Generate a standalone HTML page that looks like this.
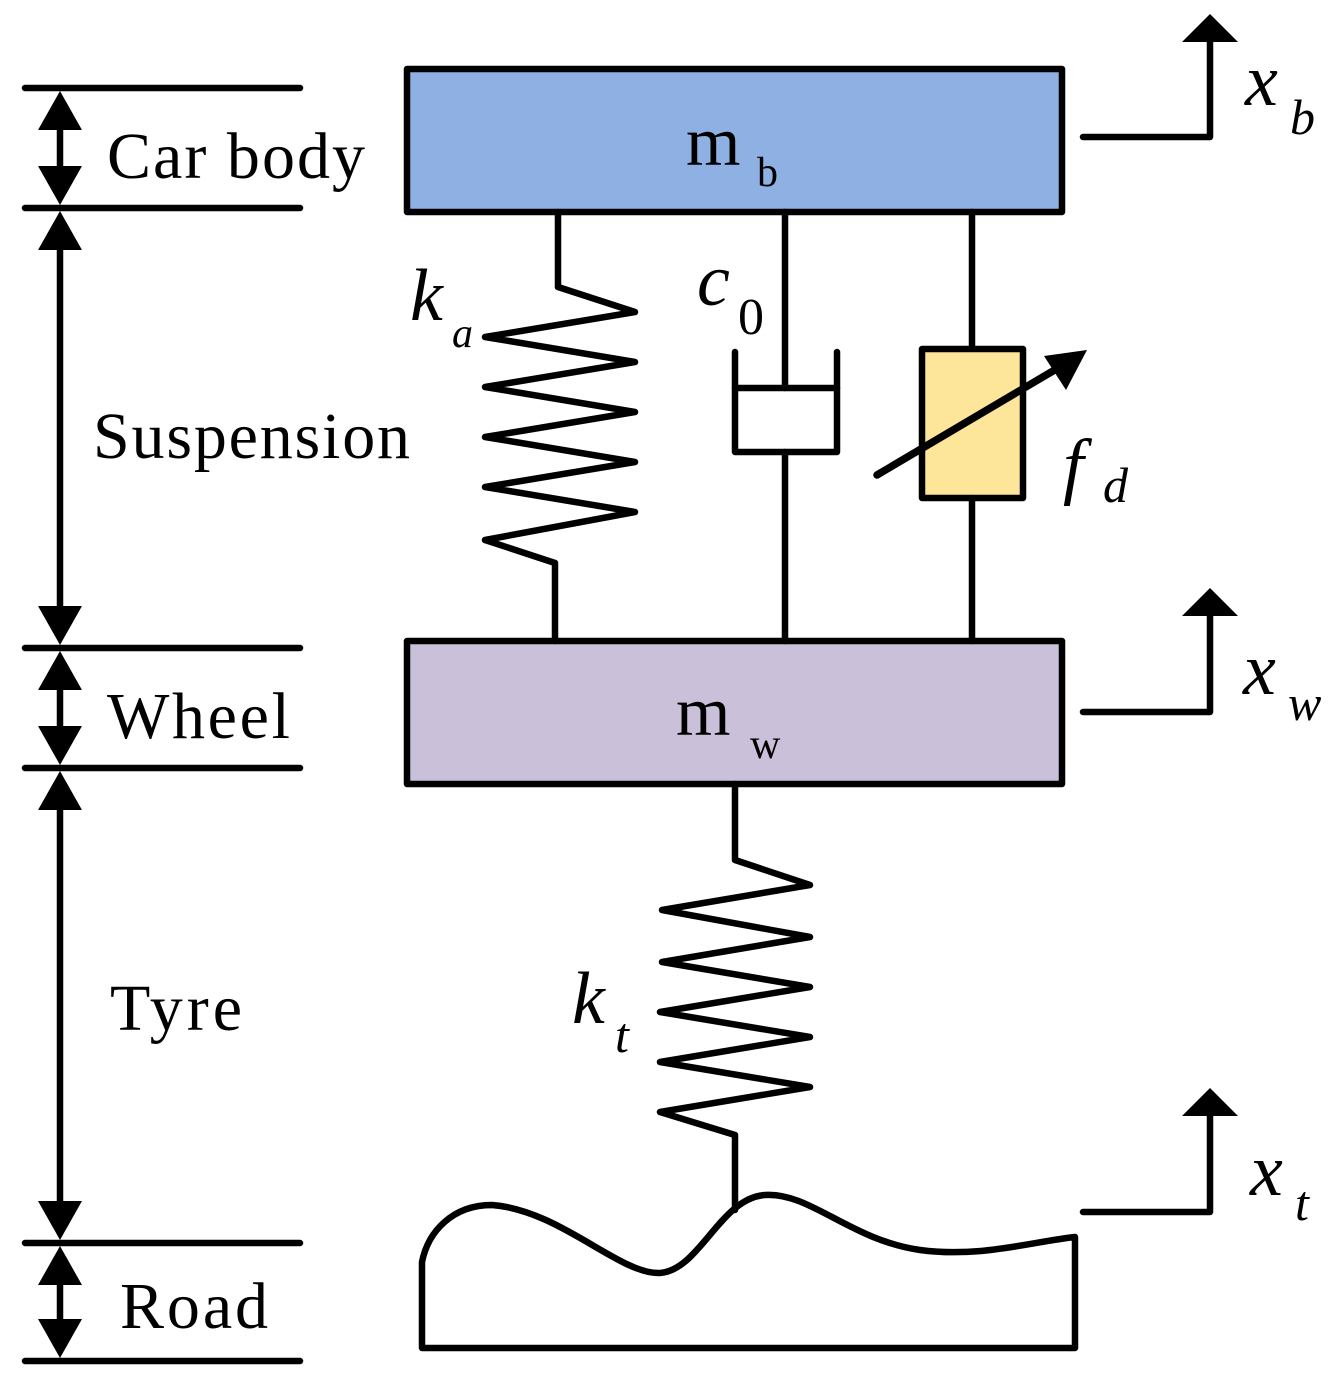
<!DOCTYPE html>
<html><head><meta charset="utf-8"><style>
html,body{margin:0;padding:0;background:#fff;}
svg{display:block;}
</style></head><body>
<svg width="1339" height="1393" viewBox="0 0 1339 1393" xmlns="http://www.w3.org/2000/svg">
<g stroke="#000" stroke-width="6.5" fill="none" stroke-linecap="round" stroke-linejoin="round">
<line x1="25" y1="88" x2="300" y2="88"/>
<line x1="25" y1="208" x2="300" y2="208"/>
<line x1="25" y1="648" x2="300" y2="648"/>
<line x1="25" y1="768" x2="300" y2="768"/>
<line x1="25" y1="1243" x2="300" y2="1243"/>
<line x1="25" y1="1361" x2="300" y2="1361"/>
<line x1="60" y1="110" x2="60" y2="186"/>
<line x1="60" y1="230" x2="60" y2="626"/>
<line x1="60" y1="670" x2="60" y2="746"/>
<line x1="60" y1="790" x2="60" y2="1221"/>
<line x1="60" y1="1265" x2="60" y2="1339"/>
<rect x="407" y="69" width="655" height="143" fill="#8EB0E2"/>
<rect x="407" y="641" width="655" height="143" fill="#CBC0DA"/>
<polyline points="558,212 558,287 635,312 485,337 635,362 485,387 635,412 485,437 635,462 485,487 635,512 485,540 555,563 555,641"/>
<line x1="785" y1="212" x2="785" y2="388"/>
<polyline points="735,352 735,452 837,452 837,352"/>
<line x1="735" y1="388" x2="837" y2="388"/>
<line x1="785" y1="452" x2="785" y2="641"/>
<line x1="972" y1="212" x2="972" y2="349"/>
<rect x="922" y="349" width="101" height="149" fill="#FDE59A"/>
<line x1="972" y1="498" x2="972" y2="641"/>
<line x1="877" y1="475" x2="1058" y2="368" stroke-width="7.5"/>
<polyline points="735,784 735,860 810,885 662,910 810,937 662,962 810,987 660,1012 810,1037 660,1062 810,1087 660,1112 735,1135 735,1210"/>
<path d="M422 1348 L422 1262 C428 1232,452 1205,492 1205 C560 1210,620 1275,660 1273 C700 1270,720 1198,765 1195 C810 1192,850 1240,920 1250 C980 1258,1030 1242,1075 1237 L1075 1348 Z"/>
<polyline points="1083,137 1210,137 1210,40"/>
<polyline points="1083,712 1210,712 1210,615"/>
<polyline points="1083,1212 1210,1212 1210,1116"/>
</g>
<g fill="#000">
<polygon points="1182,42 1238,42 1210,14"/>
<polygon points="1182,616 1238,616 1210,588"/>
<polygon points="1182,1116 1238,1116 1210,1088"/>
<polygon points="1087,350 1066,390 1044,356"/>
<polygon points="60,91 38,130 82,130"/><polygon points="60,205 38,166 82,166"/>
<polygon points="60,211 38,250 82,250"/><polygon points="60,645 38,606 82,606"/>
<polygon points="60,651 38,690 82,690"/><polygon points="60,765 38,726 82,726"/>
<polygon points="60,771 38,810 82,810"/><polygon points="60,1240 38,1201 82,1201"/>
<polygon points="60,1246 38,1285 82,1285"/><polygon points="60,1358 38,1319 82,1319"/>
</g>
<g font-family="Liberation Serif, serif" fill="#000">
<text x="107" y="178" font-size="66" textLength="258" lengthAdjust="spacing">Car body</text>
<text x="93" y="458" font-size="66" textLength="317" lengthAdjust="spacing">Suspension</text>
<text x="107" y="738" font-size="66" textLength="183" lengthAdjust="spacing">Wheel</text>
<text x="110" y="1030" font-size="66" textLength="132" lengthAdjust="spacing">Tyre</text>
<text x="120" y="1328" font-size="66" textLength="148" lengthAdjust="spacing">Road</text>
<text x="686" y="165" font-size="70">m</text><text x="757" y="186" font-size="42">b</text>
<text x="676" y="735" font-size="70">m</text><text x="750" y="758" font-size="42">w</text>
<g font-style="italic">
<text x="410" y="320" font-size="74">k</text><text x="452" y="347" font-size="42">a</text>
<text x="697" y="305" font-size="74">c</text>
<text x="1063" y="490" font-size="74">f</text><text x="1103" y="502" font-size="50">d</text>
<text x="572" y="1023" font-size="74">k</text><text x="615" y="1052" font-size="50">t</text>
<text x="1245" y="105" font-size="74">x</text><text x="1290" y="134" font-size="50">b</text>
<text x="1243" y="694" font-size="74">x</text><text x="1288" y="720" font-size="50">w</text>
<text x="1250" y="1195" font-size="74">x</text><text x="1295" y="1220" font-size="50">t</text>
</g>
<text x="738" y="334" font-size="52">0</text>
</g>
</svg>
</body></html>
